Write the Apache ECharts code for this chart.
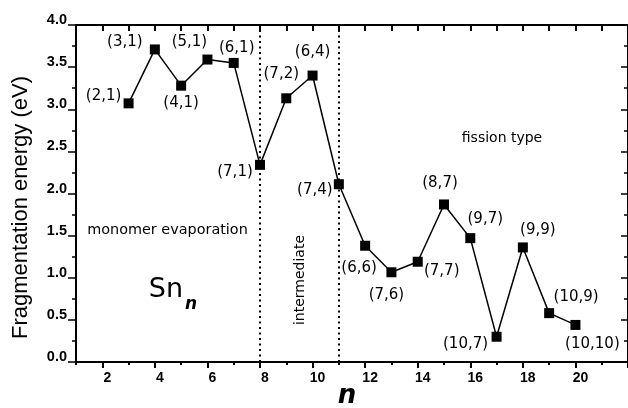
<!DOCTYPE html>
<html>
<head>
<meta charset="utf-8">
<script src="https://cdn.jsdelivr.net/npm/echarts@6/dist/echarts.min.js"></script>
<style>html,body{margin:0;padding:0;background:#fff}#c{width:628px;height:408px}</style>
</head>
<body>
<div id="c"></div>
<script>
// Data
var sizes = [3, 4, 5, 6, 7, 8, 9, 10, 11, 12, 13, 14, 15, 16, 17, 18, 19, 20];
var energies = [3.07, 3.71, 3.28, 3.59, 3.55, 2.34, 3.13, 3.40, 2.11, 1.38, 1.065, 1.19, 1.87, 1.47, 0.30, 1.36, 0.58, 0.44];
var channels = ['(2,1)', '(3,1)', '(4,1)', '(5,1)', '(6,1)', '(7,1)', '(7,2)', '(6,4)', '(7,4)', '(6,6)', '(7,6)', '(7,7)', '(8,7)', '(9,7)', '(10,7)', '(9,9)', '(10,9)', '(10,10)'];
var regionBounds = [8, 11];
var yTicks = ['0.0', '0.5', '1.0', '1.5', '2.0', '2.5', '3.0', '3.5', '4.0'];
var xTickLabels = [2, 4, 6, 8, 10, 12, 14, 16, 18, 20];
var xMajorTicks = [2, 4, 6, 8, 10, 12, 14, 16, 18, 20, 22];

// label placement (style only)
var labelOffsets = [[-25,-7],[-30,-7],[0,17],[-18,-17],[3,-15],[-25,7],[-5,-24],[0,-23],[-24,6],[-6,22],[-5,23],[24,9],[-4,-21],[15,-19],[-31,7],[15,-17],[27,-16],[17,19]];

var FONT = 'DejaVu Sans';
var TICKFONT = 'Liberation Sans';
var chart = echarts.init(document.getElementById('c'), null, {renderer: 'canvas'});

var seriesData = sizes.map(function (n, i) {
  return {
    value: [n, energies[i]],
    label: {show: true, position: 'inside', offset: labelOffsets[i], formatter: channels[i]}
  };
});

var axisLineStyle = {color: '#000', width: 2};

chart.setOption({
  animation: false,
  backgroundColor: '#fff',
  grid: {left: 76, top: 25, right: -0.6, bottom: 46, containLabel: false},
  xAxis: [{
    type: 'value', position: 'bottom', min: 1, max: 22, interval: 1,
    axisLine: {show: true, onZero: false, lineStyle: axisLineStyle},
    axisTick: {show: true, inside: false, length: 3, lineStyle: {width: 2, color: '#000'}},
    splitLine: {show: false},
    axisLabel: {
      show: true, margin: 9, color: '#000', fontFamily: TICKFONT, fontWeight: 'bold', fontSize: 14,
      customValues: xTickLabels, padding: [0, 0, 0, 10]
    }
  }, {
    type: 'value', position: 'top', min: 1, max: 22, interval: 1,
    axisLine: {show: true, onZero: false, lineStyle: axisLineStyle},
    axisTick: {show: true, inside: true, length: 6, lineStyle: {width: 2, color: '#000'}},
    axisLabel: {show: false}, splitLine: {show: false}
  }, {
    type: 'value', position: 'bottom', min: 1, max: 22,
    axisLine: {show: false, onZero: false},
    axisTick: {show: true, inside: false, length: 6, customValues: xMajorTicks, lineStyle: {width: 2, color: '#000'}},
    axisLabel: {show: false}, splitLine: {show: false}
  }],
  yAxis: [{
    type: 'value', position: 'left', min: 0, max: 4, interval: 0.5,
    axisLine: {show: true, onZero: false, lineStyle: axisLineStyle},
    axisTick: {show: true, inside: false, length: 8, lineStyle: {width: 1.5, color: '#000'}},
    minorTick: {show: true, splitNumber: 2, length: 4, lineStyle: {width: 1.5, color: '#000'}},
    splitLine: {show: false},
    axisLabel: {
      show: true, margin: 9, color: '#000', fontFamily: TICKFONT, fontWeight: 'bold', fontSize: 14.5,
      verticalAlign: 'bottom', lineHeight: 14, padding: [0, 0, -2, 0],
      formatter: function (v) { return yTicks[Math.round(v * 2)]; }
    }
  }, {
    type: 'value', position: 'right', min: 0, max: 4, interval: 0.5,
    axisLine: {show: true, onZero: false, lineStyle: axisLineStyle},
    axisTick: {show: true, inside: true, length: 7, lineStyle: {width: 1.5, color: '#000'}},
    minorTick: {show: true, splitNumber: 2, length: 4, lineStyle: {width: 1.5, color: '#000'}},
    axisLabel: {show: false}, splitLine: {show: false}
  }],
  series: [{
    type: 'line',
    xAxisIndex: 0, yAxisIndex: 0,
    data: seriesData,
    symbol: 'rect', symbolSize: 10,
    itemStyle: {color: '#000'},
    lineStyle: {color: '#000', width: 1.5},
    label: {color: '#000', fontFamily: FONT, fontSize: 15},
    markLine: {
      silent: true, symbol: 'none',
      label: {show: false},
      lineStyle: {color: '#000', type: [2, 3.5], width: 2},
      data: regionBounds.map(function (b) { return {xAxis: b}; })
    },
    z: 3
  }],
  graphic: [
    {type: 'text', x: 21, y: 207.5, rotation: Math.PI / 2,
     style: {text: 'Fragmentation energy (eV)', font: '22px "Liberation Sans"', fill: '#000', textAlign: 'center', textVerticalAlign: 'middle'}},
    {type: 'text', x: 347, y: 396,
     style: {text: 'n', font: 'italic bold 26px "DejaVu Sans"', fill: '#000', textAlign: 'center', textVerticalAlign: 'middle'}},
    {type: 'text', x: 167.5, y: 230,
     style: {text: 'monomer evaporation', font: '14.4px "DejaVu Sans"', fill: '#000', textAlign: 'center', textVerticalAlign: 'middle'}},
    {type: 'text', x: 502, y: 138,
     style: {text: 'fission type', font: '14px "DejaVu Sans"', fill: '#000', textAlign: 'center', textVerticalAlign: 'middle'}},
    {type: 'text', x: 300, y: 280, rotation: Math.PI / 2,
     style: {text: 'intermediate', font: '14px "DejaVu Sans"', fill: '#000', textAlign: 'center', textVerticalAlign: 'middle'}},
    {type: 'text', x: 166, y: 290,
     style: {text: 'Sn', font: '27px "DejaVu Sans"', fill: '#000', textAlign: 'center', textVerticalAlign: 'middle'}},
    {type: 'text', x: 191, y: 305,
     style: {text: 'n', font: 'italic bold 17px "DejaVu Sans"', fill: '#000', textAlign: 'center', textVerticalAlign: 'middle'}}
  ]
});
</script>
</body>
</html>
